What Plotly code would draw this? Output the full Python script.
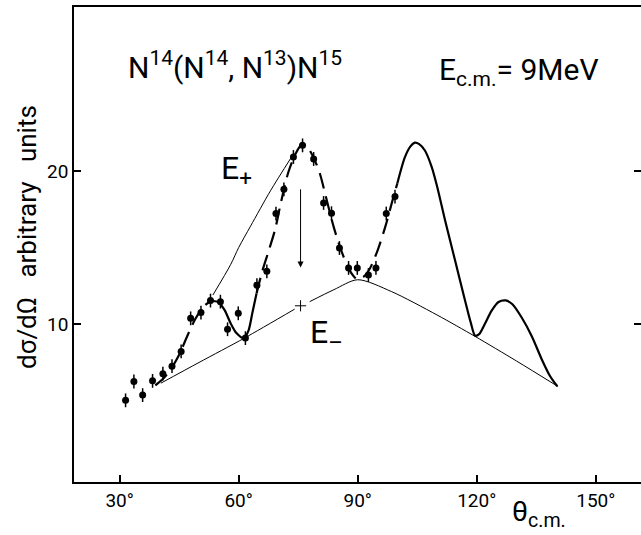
import plotly.graph_objects as go

# ---- data ----
theta_pts = [31.5, 33.6, 35.8, 38.3, 40.9, 43.2, 45.5, 47.9, 50.5, 52.9, 55.4, 57.2, 59.9, 61.7,
             64.6, 67.1, 69.4, 71.4, 73.8, 76.1, 78.9, 81.4, 83.4, 85.4, 87.7, 89.9, 92.7, 94.6,
             97.2, 99.4]
sigma_pts = [5.03, 6.26, 5.37, 6.30, 6.77, 7.26, 8.22, 10.38, 10.76, 11.54, 11.47, 9.67, 10.71, 9.09,
             12.54, 13.45, 17.22, 18.80, 20.91, 21.67, 20.78, 17.91, 17.24, 14.97, 13.67, 13.67, 13.21, 13.67,
             17.22, 18.33]
sigma_err = [0.45] * len(theta_pts)

# thick theoretical curve, dashed / solid segments
segA_x = [39, 41, 43, 45, 47, 49, 51, 53, 55]
segA_y = [6.0, 6.45, 7.1, 8.0, 9.2, 10.3, 11.1, 11.5, 11.45]
segB_x = [55, 56.5, 58, 59.5, 61.3, 62.5, 63.5, 64.5]
segB_y = [11.45, 10.9, 10.05, 9.4, 9.08, 9.6, 10.8, 12.0]
segC_x = [64.5, 66, 67.7, 69.2, 70.7, 72.5, 74.3, 76, 77.5, 79, 80.5, 82, 84, 86, 88, 89.8, 91.5, 93,
          95, 97, 99, 100]
segC_y = [12.0, 13.5, 14.9, 16.2, 18.0, 19.9, 21.1, 21.75, 21.5, 20.8, 19.8, 18.3, 16.3, 14.7, 13.5,
          12.95, 13.1, 13.6, 14.8, 16.4, 18.3, 19.2]
segD_x = [100, 101.9, 103.3, 104.4, 105.5, 106.9, 108.6, 110, 112, 114.5, 117, 118.5, 119.6, 120.6,
          122, 123.8, 125.5, 127.3, 129, 131.4, 133.9, 136.4, 138.5, 140.3]
segD_y = [19.2, 20.9, 21.6, 21.85, 21.75, 21.35, 20.3, 19.0, 16.8, 14.2, 11.6, 10.1, 9.25, 9.35,
          10.0, 10.9, 11.45, 11.55, 11.3, 10.4, 9.2, 7.7, 6.6, 5.95]

# envelope lines
eplus_x = [53.5, 58, 60, 63, 68, 73.3]
eplus_y = [11.9, 13.9, 15.0, 16.4, 18.7, 20.9]
eminus1_x = [40.4, 50, 61.5, 74.1]
eminus1_y = [6.15, 7.5, 9.1, 10.98]
eminus2_x = [77.9, 84, 90, 98.5, 110, 119.6, 130, 140.5]
eminus2_y = [11.47, 12.25, 12.9, 12.13, 10.6, 9.2, 7.6, 5.93]
cross_x = [75.6]
cross_y = [11.2]
arrow_x = 75.6
arrow_from = 18.9
arrow_to = 13.7

x_ticks = [30, 60, 90, 120, 150]
x_ticktext = ["30°", "60°", "90°", "120°", "150°"]
y_ticks = [10, 20]

FONT = "Roboto"
BLACK = "#000000"

fig = go.Figure()

def add_line(xs, ys, width, dash="solid"):
    fig.add_trace(go.Scatter(x=xs, y=ys, mode="lines",
                             line=dict(color=BLACK, width=width, dash=dash, shape="spline", smoothing=0.8),
                             showlegend=False, hoverinfo="skip"))

add_line(eplus_x, eplus_y, 1)
add_line(eminus1_x, eminus1_y, 1)
add_line(eminus2_x, eminus2_y, 1)
add_line(segA_x, segA_y, 2.2, "16px,8px")
add_line(segB_x, segB_y, 2.2)
add_line(segC_x, segC_y, 2.2, "16px,8px")
add_line(segD_x, segD_y, 2.2)

fig.add_trace(go.Scatter(x=cross_x, y=cross_y, mode="markers",
                         marker=dict(symbol="cross-thin", size=8, line=dict(color=BLACK, width=1)),
                         showlegend=False, hoverinfo="skip"))

fig.add_trace(go.Scatter(x=theta_pts, y=sigma_pts, mode="markers",
                         marker=dict(symbol="circle", size=7, color=BLACK),
                         error_y=dict(type="data", array=sigma_err, visible=True, color=BLACK,
                                      thickness=1.5, width=0),
                         showlegend=False))

fig.add_annotation(x=arrow_x, y=arrow_to, ax=arrow_x, ay=arrow_from, xref="x", yref="y",
                   axref="x", ayref="y", showarrow=True, arrowhead=2, arrowsize=1.2,
                   arrowwidth=1, arrowcolor=BLACK, text="")

L, R, T, B = 74, 641, 7, 482

def ann(text, px, py, size, xanchor="left", yanchor="middle", angle=0):
    fig.add_annotation(text=text, x=(px - L) / (R - L), y=(B - py) / (B - T), xref="paper", yref="paper",
                       showarrow=False, xanchor=xanchor, yanchor=yanchor, textangle=angle,
                       font=dict(family=FONT, size=size, color=BLACK))

ann("N<sup>14</sup>(N<sup>14</sup>, N<sup>13</sup>)N<sup>15</sup>", 126, 66, 30)
ann("E<sub>c.m.</sub>= 9MeV", 437, 72, 30)
ann("E<sub>+</sub>", 219, 170, 32)
ann("E<sub>–</sub>", 308, 334, 32)
ann("dσ/dΩ\u00a0\u00a0 arbitrary\u00a0\u00a0 units", 27, 237, 26, xanchor="center", angle=-90)
ann("θ<sub>c.m.</sub>", 510, 534, 28, yanchor="bottom")

fig.update_layout(
    width=641, height=535,
    margin=dict(l=L, r=641 - R, t=T, b=535 - B, autoexpand=False),
    paper_bgcolor="white", plot_bgcolor="white",
    font=dict(family=FONT, color=BLACK),
    xaxis=dict(range=[18.5, 161.4], tickvals=x_ticks, ticktext=x_ticktext,
               ticks="inside", ticklen=7, tickwidth=1.5, tickcolor=BLACK,
               showline=True, linecolor=BLACK, linewidth=1.5, mirror=True,
               showgrid=False, zeroline=False, tickfont=dict(size=19, family=FONT)),
    yaxis=dict(range=[-0.3, 30.7], tickvals=y_ticks,
               ticks="inside", ticklen=7, tickwidth=1.5, tickcolor=BLACK,
               showline=True, linecolor=BLACK, linewidth=1.5, mirror="ticks",
               showgrid=False, zeroline=False, tickfont=dict(size=19, family=FONT)),
)

fig.write_html("out.html", config={"displayModeBar": False},
               post_script="document.body.style.margin='0';")
